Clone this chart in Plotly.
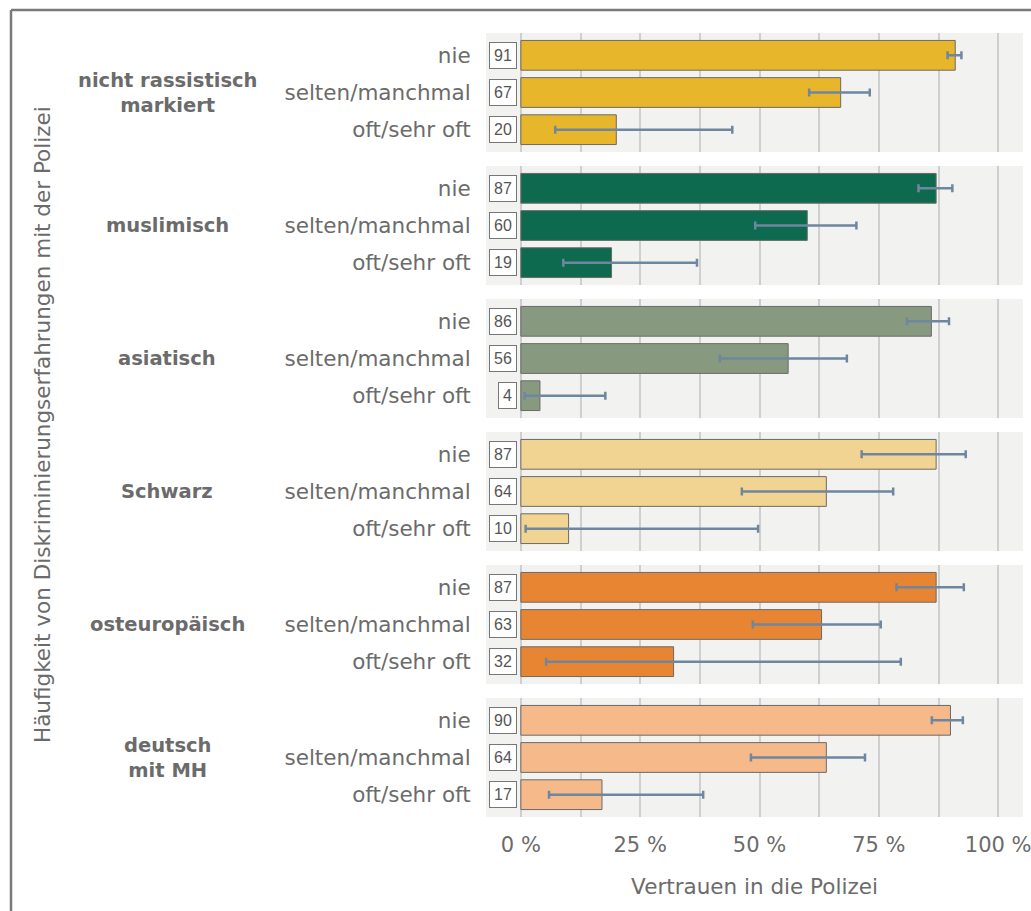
import plotly.graph_objects as go
from plotly.subplots import make_subplots

groups = ["nicht rassistisch<br>markiert", "muslimisch", "asiatisch", "Schwarz",
          "osteuropäisch", "deutsch<br>mit MH"]
categories = ["nie", "selten/manchmal", "oft/sehr oft"]

values = [
    [91, 67, 20],
    [87, 60, 19],
    [86, 56, 4],
    [87, 64, 10],
    [87, 63, 32],
    [90, 64, 17],
]
ci_low = [
    [89.4, 60.4, 7.2],
    [83.3, 49.1, 8.9],
    [80.9, 41.7, 0.8],
    [71.4, 46.3, 1.0],
    [78.7, 48.6, 5.3],
    [86.1, 48.2, 5.9],
]
ci_high = [
    [92.3, 73.1, 44.3],
    [90.4, 70.3, 36.9],
    [89.7, 68.3, 17.7],
    [93.2, 78.0, 49.7],
    [92.8, 75.4, 79.6],
    [92.6, 72.1, 38.2],
]
colors = ["#E8B62A", "#0E6A4F", "#879A80", "#F2D492", "#E88532", "#F5B98A"]

x_tickvals = [0, 12.5, 25, 37.5, 50, 62.5, 75, 87.5, 100]
x_ticktext = ["0 %", "", "25 %", "", "50 %", "", "75 %", "", "100 %"]

W, H = 1031, 911
L, R, T, B = 486, 8, 33, 94
plot_h = H - T - B
plot_w = W - L - R

FONT = "DejaVu Sans"
TXT = "#6b6b6b"

fig = make_subplots(rows=6, cols=1, shared_xaxes=True,
                    vertical_spacing=14 / plot_h)

for i in range(6):
    r = i + 1
    fig.add_trace(go.Bar(
        x=values[i], y=categories, orientation="h",
        marker=dict(color=colors[i], line=dict(color="#6a6a6a", width=1)),
        width=0.8,
        error_x=dict(type="data", symmetric=False,
                     array=[h - v for h, v in zip(ci_high[i], values[i])],
                     arrayminus=[v - l for l, v in zip(ci_low[i], values[i])],
                     color="#6F86A0", thickness=2.5, width=4),
        showlegend=False, hoverinfo="skip",
    ), row=r, col=1)
    for c, v in zip(categories, values[i]):
        fig.add_annotation(
            x=0, y=c, xref=f"x{r if r > 1 else ''}", yref=f"y{r if r > 1 else ''}",
            text=str(v), showarrow=False, xanchor="right", xshift=-4,
            font=dict(family="Liberation Sans", size=16, color="#555555"),
            bgcolor="white", bordercolor="#777777", borderwidth=1, borderpad=4,
        )
    fig.add_annotation(
        x=(167 - L) / plot_w, y=0.5, xref="paper",
        yref=f"y{r if r > 1 else ''} domain",
        text=f"<b>{groups[i]}</b>", showarrow=False, xanchor="center",
        yanchor="middle", align="center",
        font=dict(family=FONT, size=19.5, color=TXT),
    )
    fig.update_yaxes(
        row=r, col=1, categoryorder="array", categoryarray=categories,
        autorange=False, range=[2.6, -0.6], showgrid=False, zeroline=False,
        ticks="outside", ticklen=10, tickcolor="rgba(0,0,0,0)",
        tickfont=dict(family=FONT, size=21.5, color=TXT), showline=False,
        automargin=False,
    )
    fig.update_xaxes(
        row=r, col=1, range=[-7.3, 105.2], tickvals=x_tickvals,
        ticktext=x_ticktext, showgrid=True, gridcolor="#cfcfcf", gridwidth=1.5,
        zeroline=False, showline=False,
        ticks="outside" if r == 6 else "", ticklen=9, tickcolor="rgba(0,0,0,0)",
        ticklabeloverflow="allow", automargin=False,
        tickfont=dict(family=FONT, size=21, color=TXT),
        showticklabels=(r == 6),
    )

fig.update_xaxes(row=6, col=1, title=dict(text="Vertrauen in die Polizei",
                                          font=dict(family=FONT, size=21.5, color=TXT),
                                          standoff=22))

fig.add_annotation(
    x=(42 - L) / plot_w, y=0.5, xref="paper", yref="paper",
    text="Häufigkeit von Diskriminierungserfahrungen mit der Polizei",
    showarrow=False, textangle=-90, xanchor="center", yanchor="middle",
    font=dict(family=FONT, size=21.5, color=TXT),
)

# frame lines (top and left)
fx = (11 - L) / plot_w
fy = 1 + (T - 10) / plot_h
fig.add_shape(type="line", xref="paper", yref="paper", x0=fx, x1=1 + R / plot_w + 0.01,
              y0=fy, y1=fy, line=dict(color="#7a7a7a", width=2.5))
fig.add_shape(type="line", xref="paper", yref="paper", x0=fx, x1=fx,
              y0=fy, y1=-B / plot_h - 0.01, line=dict(color="#7a7a7a", width=2.5))

fig.update_layout(
    width=W, height=H, margin=dict(l=L, r=R, t=T, b=B, autoexpand=False),
    paper_bgcolor="white", plot_bgcolor="#F2F3F0", bargap=0.2,
    font=dict(family=FONT, color=TXT),
)

fig.write_html("out.html")
